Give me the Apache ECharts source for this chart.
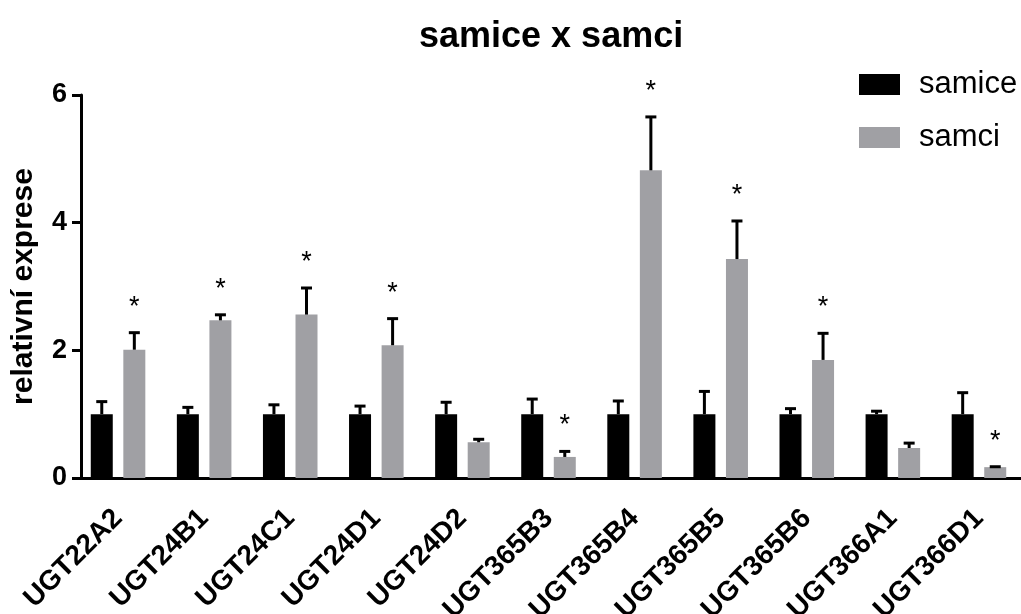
<!DOCTYPE html>
<html>
<head>
<meta charset="utf-8">
<script src="https://cdn.jsdelivr.net/npm/echarts@6/dist/echarts.min.js"></script>
<style>
html,body{margin:0;padding:0;background:#fff;}
#chart{width:1021px;height:614px;}
</style>
</head>
<body>
<div id="chart"></div>
<script>
var categories = ['UGT22A2','UGT24B1','UGT24C1','UGT24D1','UGT24D2','UGT365B3','UGT365B4','UGT365B5','UGT365B6','UGT366A1','UGT366D1'];
var samice = [1, 1, 1, 1, 1, 1, 1, 1, 1, 1, 1];
var samiceErr = [0.22, 0.13, 0.17, 0.15, 0.21, 0.26, 0.23, 0.38, 0.11, 0.07, 0.36];
var samci = [2.01, 2.47, 2.56, 2.08, 0.56, 0.33, 4.82, 3.43, 1.85, 0.47, 0.17];
var samciErr = [0.29, 0.11, 0.44, 0.44, 0.07, 0.11, 0.86, 0.62, 0.44, 0.10, 0.03];
var significant = [1, 1, 1, 1, 0, 1, 1, 1, 1, 0, 1];
var yTicks = [0, 2, 4, 6];

var FONT = '"Liberation Sans", Arial, Helvetica, sans-serif';
var BAR_W = 22;
var BAR_GAP = 0.48;
var HALF_SHIFT = BAR_W * (1 + BAR_GAP) / 2;

function errData(means, errs, flags) {
  return means.map(function (m, i) { return [i, m, m + errs[i], flags ? flags[i] : 0]; });
}

function errRender(shift, withStar) {
  return function (params, api) {
    var i = api.value(0);
    var top = api.coord([i, api.value(2)]);
    var base = api.coord([i, api.value(1)]);
    var x = top[0] + shift;
    var children = [
      { type: 'line', shape: { x1: x, y1: base[1], x2: x, y2: top[1] + 1.5 }, style: { stroke: '#000', lineWidth: 3 } },
      { type: 'line', shape: { x1: x - 5.5, y1: top[1] + 1.5, x2: x + 5.5, y2: top[1] + 1.5 }, style: { stroke: '#000', lineWidth: 3 } }
    ];
    if (withStar && api.value(3) === 1) {
      children.push({
        type: 'text',
        style: { text: '*', x: x, y: top[1] - 24, align: 'center', verticalAlign: 'middle', fontSize: 27, fontFamily: FONT, fill: '#000' }
      });
    }
    return { type: 'group', children: children };
  };
}

var chart = echarts.init(document.getElementById('chart'), null, { renderer: 'canvas' });
chart.setOption({
  animation: false,
  backgroundColor: '#fff',
  title: {
    text: 'samice x samci',
    left: 414,
    top: 14,
    textStyle: { fontFamily: FONT, fontSize: 36, fontWeight: 'bold', color: '#000' }
  },
  legend: {
    orient: 'vertical',
    left: 854,
    top: 64,
    itemWidth: 41,
    itemHeight: 21,
    itemGap: 22,
    icon: 'rect',
    data: ['samice', 'samci'],
    textStyle: { fontFamily: FONT, fontSize: 31, color: '#000', padding: [0, 0, 0, 14] }
  },
  grid: { left: 75, right: -1, top: 95, bottom: 136, containLabel: false, outerBoundsMode: 'none' },
  xAxis: {
    type: 'category',
    data: categories,
    axisLine: { lineStyle: { color: '#000', width: 3 } },
    axisTick: { alignWithLabel: true, length: 10, lineStyle: { color: '#000', width: 3 } },
    axisLabel: { rotate: 45, margin: 36, interval: 0, fontFamily: FONT, fontSize: 28, fontWeight: 'bold', color: '#000' }
  },
  yAxis: {
    type: 'value',
    min: yTicks[0],
    max: yTicks[yTicks.length - 1],
    interval: yTicks[1] - yTicks[0],
    offset: -6,
    name: 'relativní exprese',
    nameLocation: 'middle',
    nameRotate: 90,
    nameGap: 42,
    nameTextStyle: { fontFamily: FONT, fontSize: 30, fontWeight: 'bold', color: '#000' },
    axisLine: { show: true, lineStyle: { color: '#000', width: 3 } },
    axisTick: { show: true, length: 9, lineStyle: { color: '#000', width: 3 } },
    axisLabel: { margin: 14, fontFamily: FONT, fontSize: 27, fontWeight: 'bold', color: '#000' },
    splitLine: { show: false }
  },
  series: [
    { name: 'samice', type: 'bar', data: samice, barWidth: BAR_W, barGap: (BAR_GAP * 100) + '%', itemStyle: { color: '#000' } },
    { name: 'samci', type: 'bar', data: samci, barWidth: BAR_W, itemStyle: { color: '#a0a0a4' } },
    { type: 'custom', data: errData(samice, samiceErr), renderItem: errRender(-HALF_SHIFT, false), z: 5, encode: { x: 0, y: 2 } },
    { type: 'custom', data: errData(samci, samciErr, significant), renderItem: errRender(HALF_SHIFT, true), z: 5, encode: { x: 0, y: 2 } }
  ]
});
</script>
</body>
</html>
